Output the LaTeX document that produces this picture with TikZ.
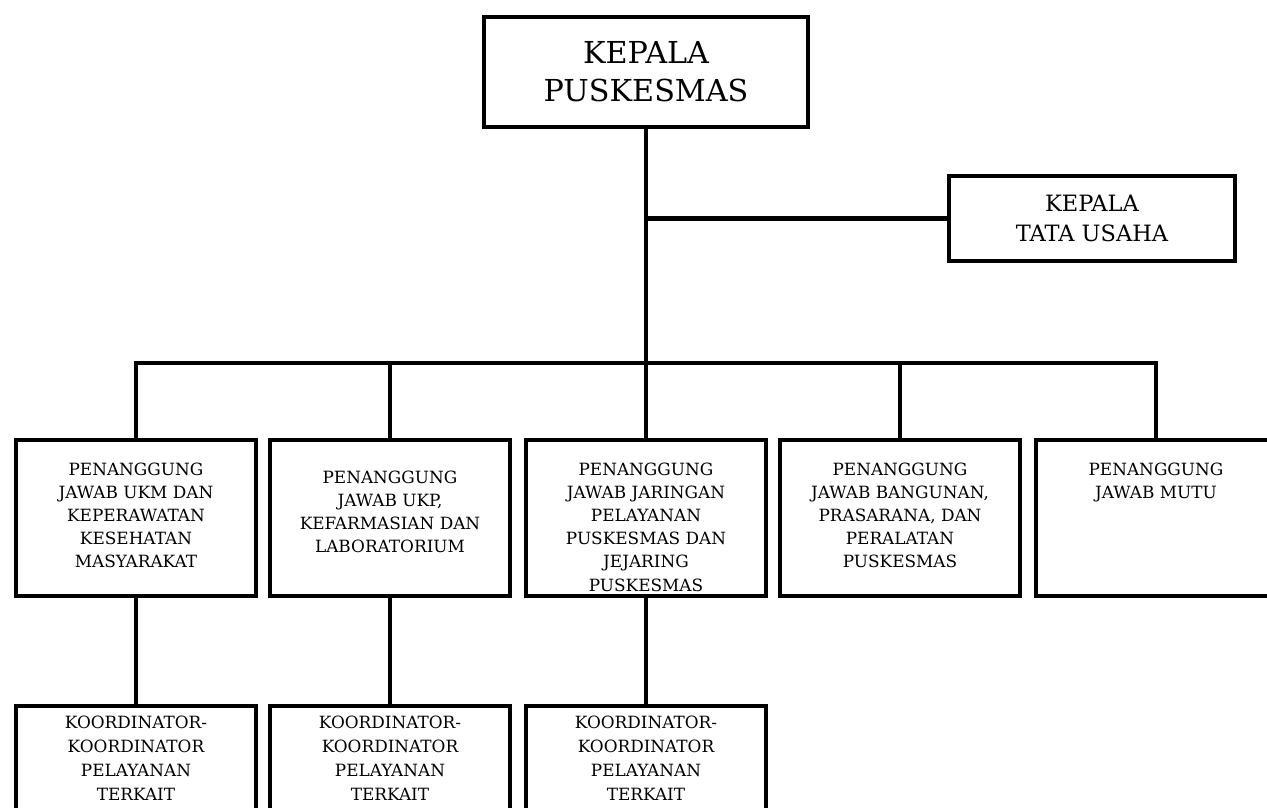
\documentclass[tikz,border=0pt]{standalone}
\usepackage{fontspec}
\setmainfont{DejaVu Serif}
\usepackage{tikz}

% text held at the top of a fixed box
\newcommand{\midtxt}[2][0.58cm]{\parbox[c][3.9cm][t]{5.9cm}{\centering\vspace*{#1}#2}}
\newcommand{\lowtxt}[1]{\parbox[c][3cm][t]{5.9cm}{\centering\vspace*{0.25cm}#1}}

\begin{document}
\begin{tikzpicture}[
font=\normalfont,
unit/.style={draw,line width=3pt,inner sep=0pt,align=center},
head/.style={unit,minimum width=8.1cm,minimum height=2.75cm,font=\fontsize{21.5}{27}\selectfont},
staff/.style={unit,minimum width=7.15cm,minimum height=2.125cm,font=\fontsize{16}{21}\selectfont},
pj/.style={unit,minimum width=6cm,minimum height=3.9cm,font=\fontsize{12}{16.4}\selectfont},
koor/.style={unit,minimum width=6cm,minimum height=3cm,font=\fontsize{12}{17}\selectfont},
link/.style={line width=3pt},
scale=1]
    % Page
    \useasboundingbox (0,0) rectangle (31.675,-20.175);
    \clip (0,0) rectangle (31.675,-20.175);

    % Top
    \node[head] (kapus) at (16.15,-1.8) {KEPALA\\PUSKESMAS};
    \node[staff] (tu) at (27.3,-5.4625) {KEPALA\\TATA USAHA};
    \coordinate (bus) at (16.15,-9.075);

    % Penanggung jawab
    \node[pj] (ukm) at (3.4,-12.95)
        {\midtxt{PENANGGUNG\\JAWAB UKM DAN\\KEPERAWATAN\\KESEHATAN\\MASYARAKAT}};
    \node[pj] (ukp) at (9.75,-12.95)
        {\midtxt[0.78cm]{PENANGGUNG\\JAWAB UKP,\\KEFARMASIAN DAN\\LABORATORIUM}};
    \node[pj] (jar) at (16.15,-12.95)
        {\midtxt{PENANGGUNG\\JAWAB JARINGAN\\PELAYANAN\\PUSKESMAS DAN\\JEJARING\\PUSKESMAS}};
    \node[pj] (bang) at (22.5,-12.95)
        {\midtxt{PENANGGUNG\\JAWAB BANGUNAN,\\PRASARANA, DAN\\PERALATAN\\PUSKESMAS}};
    \node[pj] (mutu) at (28.9,-12.95)
        {\midtxt{PENANGGUNG\\JAWAB MUTU}};

    % Koordinator
    \node[koor] (kukm) at (3.4,-19.15) {\lowtxt{KOORDINATOR-\\KOORDINATOR\\PELAYANAN\\TERKAIT}};
    \node[koor] (kukp) at (9.75,-19.15) {\lowtxt{KOORDINATOR-\\KOORDINATOR\\PELAYANAN\\TERKAIT}};
    \node[koor] (kjar) at (16.15,-19.15) {\lowtxt{KOORDINATOR-\\KOORDINATOR\\PELAYANAN\\TERKAIT}};

    % Lines
    \draw[link] (kapus.south) -- (jar.north);
    \draw[link] (tu.west) -- (tu.west -| kapus.south);
    \draw[link] (ukm.north) |- (bus) -| (mutu.north);
    \draw[link] (ukp.north) -- (ukp.north |- bus);
    \draw[link] (bang.north) -- (bang.north |- bus);
    \draw[link] (ukm.south) -- (kukm.north);
    \draw[link] (ukp.south) -- (kukp.north);
    \draw[link] (jar.south) -- (kjar.north);

\end{tikzpicture}
\end{document}
